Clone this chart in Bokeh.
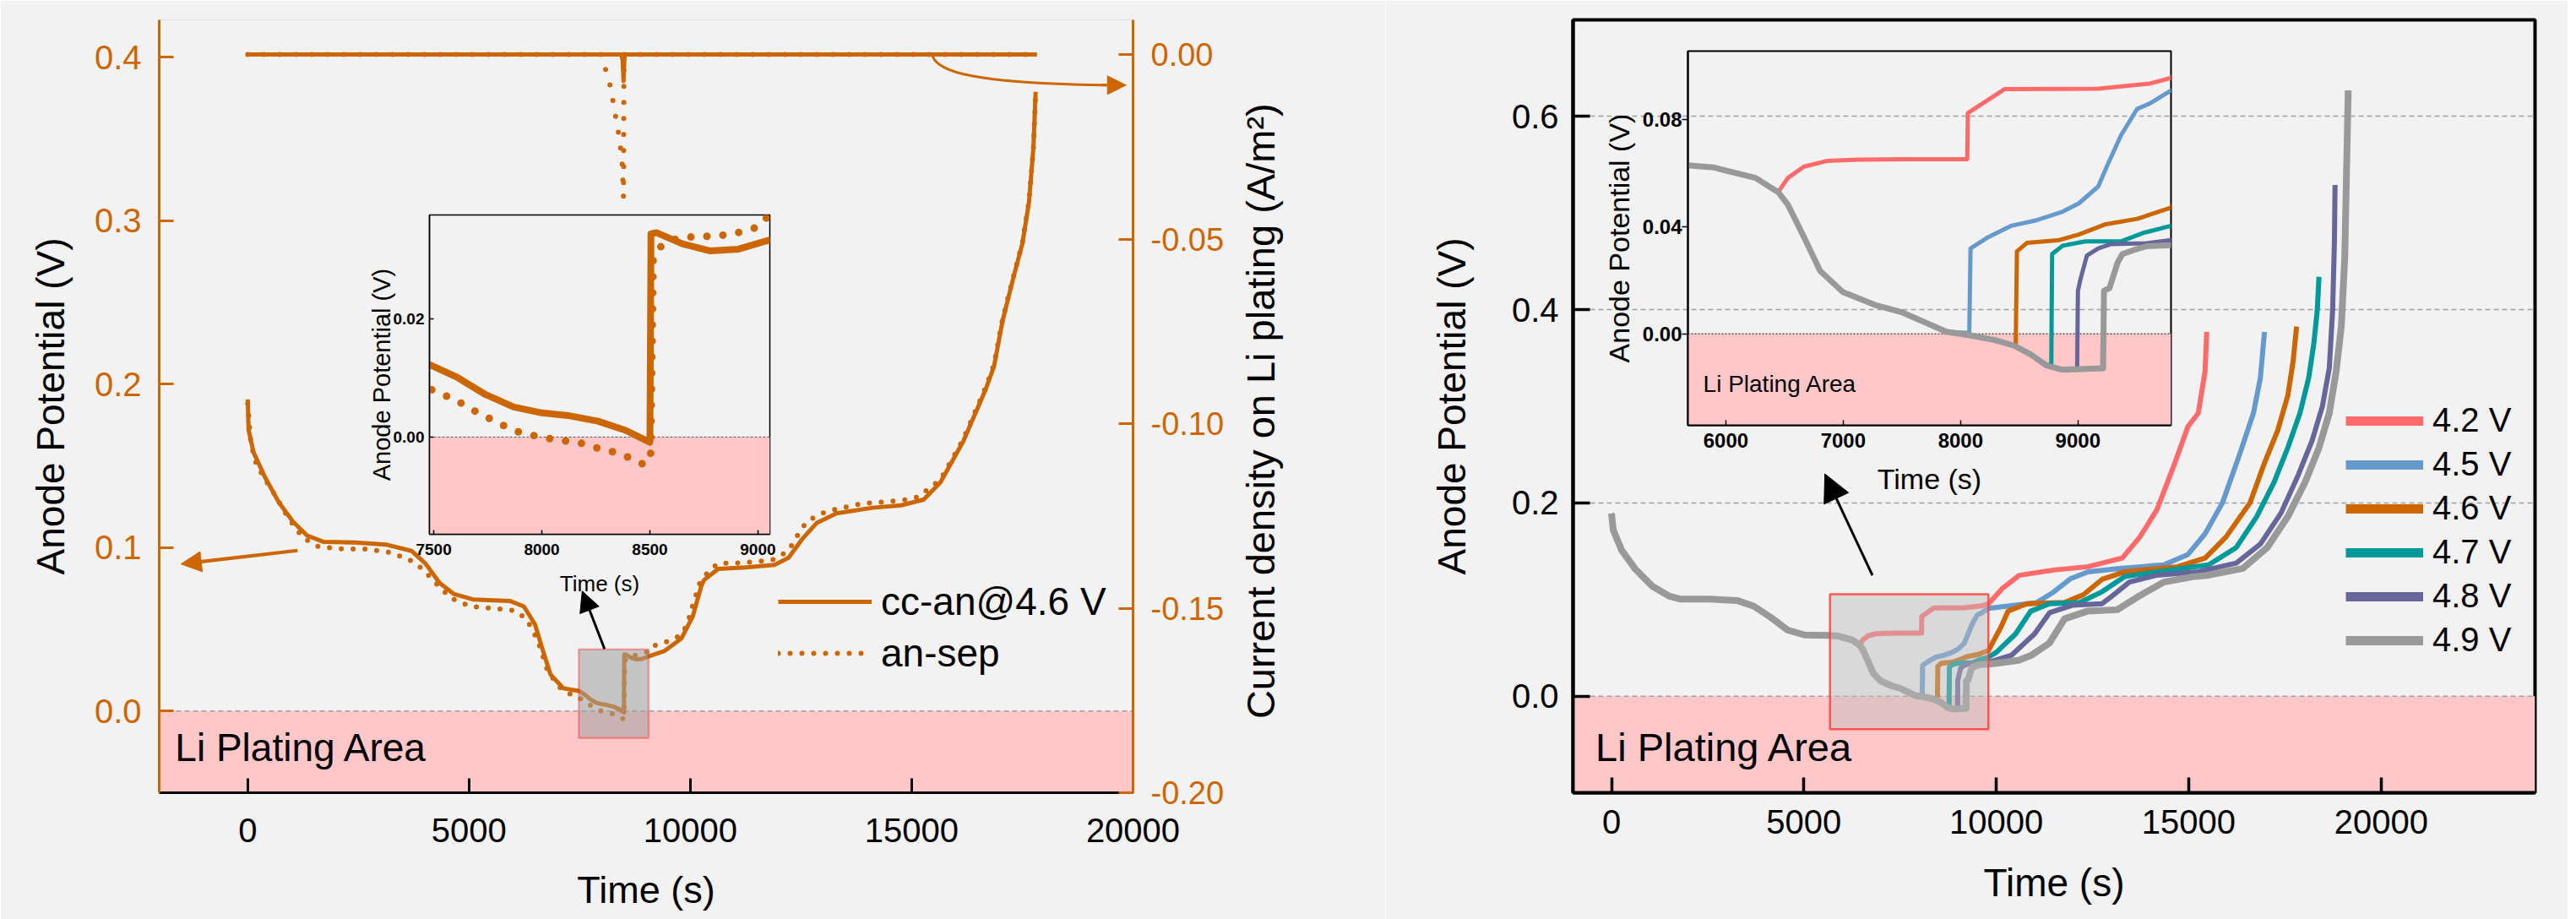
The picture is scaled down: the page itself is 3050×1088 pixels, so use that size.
import math
from bokeh.plotting import figure
from bokeh.models import (Range1d, LinearAxis, FixedTicker, NumeralTickFormatter, BoxAnnotation,
                          Span, Label, Arrow, NormalHead, Legend, LegendItem, GridBox)
from bokeh.embed import file_html
from bokeh.resources import INLINE

FONT = "Liberation Sans"
ORANGE = "#CC6600"
BG = "#F2F2F2"
PINK = "#FFC7C7"

# ---------------- left panel data ----------------
t_cc = [0, 20, 130, 390, 700, 1020, 1340, 1720, 2420, 3120, 3700, 4010, 4330, 4650, 5090, 5920, 6240, 6490,
        6680, 6840, 7130, 7480, 7610, 7740, 7870, 8000, 8130, 8260, 8390, 8500, 8505, 8530, 8650, 8780, 8910,
        9040, 9420, 9800, 10055, 10250, 10310, 10630, 11260, 11900, 12220, 12540, 12850, 13300, 14120, 14760,
        15270, 15650, 16160, 16670, 16860, 17050, 17300, 17500, 17650, 17750, 17800]
v_cc = [0.1907, 0.172, 0.1584, 0.1431, 0.1278, 0.1159, 0.1074, 0.1035, 0.1032, 0.1019, 0.098, 0.0904, 0.0785,
        0.0717, 0.0683, 0.0674, 0.064, 0.053, 0.036, 0.0224, 0.0139, 0.0123, 0.0101, 0.0072, 0.0051, 0.0041,
        0.0036, 0.0027, 0.0011, -0.0009, 0.0345, 0.0347, 0.0328, 0.0316, 0.0319, 0.0333, 0.0368, 0.0445, 0.058,
        0.0768, 0.0802, 0.087, 0.0879, 0.0895, 0.0938, 0.1057, 0.115, 0.121, 0.1244, 0.1259, 0.1294, 0.140,
        0.1648, 0.1967, 0.211, 0.2384, 0.2656, 0.286, 0.3115, 0.345, 0.379]

t_as = [0, 70, 200, 360, 640, 930, 1250, 1600, 2140, 2680, 3190, 3630, 3950, 4270, 4590, 5030, 5510, 6020, 6300,
        6560, 6780, 7070, 7380, 7480, 7550, 7620, 7680, 7750, 7820, 7890, 7970, 8040, 8120, 8190, 8260, 8340,
        8405, 8475, 8503, 8515, 8550, 8625, 8700, 8775, 8850, 8920, 8995, 9100, 9320, 9580, 9790, 9930, 10055,
        10215, 10405, 10630, 11020, 11710, 11930, 12155, 12315, 12470, 12660, 12850, 13045, 13425, 13900, 14410,
        14920, 15140, 15650, 16160, 16670, 16860, 17050, 17300, 17500, 17650, 17750, 17800]
v_as = [0.188, 0.1635, 0.1508, 0.1431, 0.1312, 0.1176, 0.106, 0.1006, 0.0992, 0.0992, 0.0972, 0.093, 0.087,
        0.0777, 0.0691, 0.064, 0.0629, 0.0615, 0.0564, 0.0428, 0.0241, 0.0139, 0.0088, 0.0082, 0.0071, 0.0059,
        0.0046, 0.0033, 0.0020, 0.0009, 0.0002, -0.0003, -0.0007, -0.0011, -0.0019, -0.0026, -0.0035, -0.0047,
        -0.0033, 0.0300, 0.0323, 0.0337, 0.0340, 0.0341, 0.0343, 0.0348, 0.0356, 0.0394, 0.041, 0.0436, 0.0465,
        0.053, 0.0649, 0.0785, 0.0853, 0.0904, 0.0905, 0.092, 0.093, 0.0972, 0.1023, 0.110, 0.1167, 0.119,
        0.1218, 0.1244, 0.127, 0.128, 0.1295, 0.131, 0.1415, 0.166, 0.198, 0.212, 0.2395, 0.266, 0.2865, 0.312,
        0.345, 0.378]

# current density on Li plating (right axis)
t_cur_cc = [0, 8440, 8470, 8490, 8505, 8520, 17830]
j_cur_cc = [0, 0, -0.0015, -0.0072, -0.002, 0, 0]
t_cur_as = [0, 7990, 8014, 8099, 8197, 8258, 8319, 8376, 8428, 8464, 8489, 8494, 8500, 17830]
j_cur_as = [0, 0, -0.0012, -0.0046, -0.0088, -0.0131, -0.0173, -0.0213, -0.0258, -0.0302, -0.0387, -0.02, 0, 0]

# ---------------- right panel data ----------------
t_base = [0, 44, 263, 629, 1068, 1507, 1799, 2530, 3262, 3701, 4140, 4579, 5018, 5676, 5895, 6253, 6446, 6529,
          6666, 6804, 6997, 7272, 7493, 7686, 7879, 8099, 8292, 8457, 8595, 8732, 8870, 9063, 9214]
v_base = [0.189, 0.172, 0.151, 0.131, 0.1135, 0.1033, 0.1004, 0.1004, 0.099, 0.093, 0.0814, 0.0683, 0.0633,
          0.0629, 0.0621, 0.0582, 0.0529, 0.0482, 0.0361, 0.0235, 0.0156, 0.0108, 0.0082, 0.0045, 0.0008,
          -0.0007, -0.0023, -0.0044, -0.0076, -0.0118, -0.0134, -0.0131, -0.0128]

t42 = [6529, 6666, 6859, 7134, 7548, 8057, 8062, 8153, 8374, 9173, 9614, 9793, 10145, 10593, 11488, 12383, 13274,
       13728, 14174, 14623, 14980, 15249, 15424, 15468]
v42 = [0.0582, 0.0624, 0.0645, 0.065, 0.0652, 0.0652, 0.0824, 0.085, 0.0913, 0.0915, 0.0934, 0.0955, 0.111, 0.125,
       0.1305, 0.134, 0.143, 0.1646, 0.193, 0.2395, 0.279, 0.293, 0.336, 0.377]
t45 = [8074, 8085, 8236, 8429, 8649, 8870, 9008, 9173, 9256, 9366, 9504, 9614, 9793, 10575, 11036, 11488, 11935,
       12383, 13274, 14349, 14980, 15424, 15876, 16324, 16683, 16861, 16969]
v45 = [0.0003, 0.0319, 0.0361, 0.0403, 0.0424, 0.0456, 0.0487, 0.055, 0.0634, 0.074, 0.0839, 0.086, 0.0908,
       0.0945, 0.0965, 0.1077, 0.1217, 0.1287, 0.1323, 0.1358, 0.1466, 0.168, 0.200, 0.2503, 0.293, 0.329, 0.377]
t46 = [8470, 8480, 8567, 8842, 9008, 9228, 9504, 9793, 10110, 10306, 10795, 11773, 12265, 12748, 13340, 14713,
       15428, 15966, 16594, 16951, 17312, 17575, 17713, 17803]
v46 = [-0.0039, 0.0308, 0.034, 0.035, 0.0371, 0.0408, 0.0429, 0.0471, 0.0706, 0.0879, 0.0957, 0.097, 0.105,
       0.1208, 0.1287, 0.134, 0.143, 0.1646, 0.2002, 0.2395, 0.275, 0.311, 0.3466, 0.3825]
t47 = [8773, 8780, 8870, 9063, 9366, 9559, 9793, 10005, 10501, 10893, 11383, 12166, 12748, 13340, 14174, 15518,
       16236, 16771, 17221, 17575, 17892, 18116, 18250, 18342, 18385]
v47 = [-0.0113, 0.0298, 0.0329, 0.0345, 0.0345, 0.0377, 0.0403, 0.0455, 0.0644, 0.0879, 0.0957, 0.097, 0.108,
       0.1238, 0.1287, 0.1358, 0.1538, 0.186, 0.2216, 0.257, 0.293, 0.329, 0.3645, 0.400, 0.434]
t48 = [8993, 9000, 9021, 9076, 9173, 9283, 9586, 9793, 10400, 10992, 11383, 11971, 12748, 13010, 13458, 14174,
       15249, 16236, 16861, 17398, 17846, 18206, 18474, 18653, 18741, 18787, 18803]
v48 = [-0.0132, 0.0161, 0.0203, 0.0292, 0.0319, 0.0335, 0.0338, 0.035, 0.0425, 0.0644, 0.0863, 0.094, 0.0957,
       0.1037, 0.118, 0.1252, 0.1287, 0.1377, 0.1573, 0.1895, 0.2288, 0.2645, 0.300, 0.3396, 0.4003, 0.4718, 0.529]
t49 = [9222, 9269, 9338, 9379, 9476, 9586, 9793, 10000, 10575, 10900, 11383, 11773, 12361, 13143, 13728, 14349,
       15104, 15518, 16411, 17041, 17578, 18026, 18385, 18653, 18831, 18965, 19055, 19101, 19145]
v49 = [0.0161, 0.0171, 0.0266, 0.0298, 0.0313, 0.0327, 0.0331, 0.034, 0.037, 0.042, 0.055, 0.080, 0.0879, 0.0894,
       0.104, 0.118, 0.1235, 0.1252, 0.1323, 0.1538, 0.186, 0.2216, 0.257, 0.293, 0.336, 0.3825, 0.454, 0.543,
       0.627]

voltages = ["4.2 V", "4.5 V", "4.6 V", "4.7 V", "4.8 V", "4.9 V"]
colors = ["#FF6B6B", "#6699CC", "#CC6600", "#009999", "#666699", "#999999"]
tails = [(t42, v42), (t45, v45), (t46, v46), (t47, v47), (t48, v48), (t49, v49)]

RIGHT_TITLE = "Current density on Li plating (A/m²)"


def full_series(tt, vv):
    xs = [t for t in t_base if t < tt[0]] + tt
    ys = [v for t, v in zip(t_base, v_base) if t < tt[0]] + vv
    return xs, ys


def style_axis(ax, color="black", label_color="black", tick_size="40px", title_size="46px",
               tick_in=17, tick_out=0, lw=3, tick_lw=3, bold=False):
    ax.axis_line_color = color
    ax.axis_line_width = lw
    ax.major_tick_line_color = color
    ax.major_tick_line_width = tick_lw
    ax.major_tick_in = tick_in
    ax.major_tick_out = tick_out
    ax.minor_tick_line_color = None
    ax.major_label_text_color = label_color
    ax.major_label_text_font = FONT
    ax.major_label_text_font_size = tick_size
    ax.major_label_text_font_style = "bold" if bold else "normal"
    ax.axis_label_text_font = FONT
    ax.axis_label_text_font_size = title_size
    ax.axis_label_text_font_style = "normal"
    ax.axis_label_text_color = "black"


H = 1088

# =============== LEFT MAIN ===============
p1 = figure(width=1640, height=H, x_range=Range1d(-2000, 20000), y_range=Range1d(-0.05, 0.423),
            output_backend="svg", toolbar_location=None,
            min_border_left=188, min_border_right=299, min_border_top=21, min_border_bottom=H - 949,
            background_fill_color=BG, border_fill_color=BG, outline_line_color="#DCDCDC", outline_line_width=1)
p1.grid.visible = False
p1.extra_y_ranges = {"cur": Range1d(-0.2, 0.0094)}

xa = p1.xaxis[0]
xa.ticker = FixedTicker(ticks=[0, 5000, 10000, 15000, 20000])
xa.formatter = NumeralTickFormatter(format="0")
xa.axis_label = "Time (s)"
style_axis(xa, title_size="45px")
xa.major_label_standoff = 30
xa.axis_label_standoff = 28

ya = p1.yaxis[0]
ya.ticker = FixedTicker(ticks=[0, 0.1, 0.2, 0.3, 0.4])
ya.formatter = NumeralTickFormatter(format="0.0")
ya.axis_label = "Anode Potential (V)"
style_axis(ya, color=ORANGE, label_color=ORANGE)
ya.major_label_standoff = 21
ya.axis_label_standoff = 23

ax_r = LinearAxis(y_range_name="cur", ticker=FixedTicker(ticks=[-0.2, -0.15, -0.1, -0.05, 0.0]),
                  formatter=NumeralTickFormatter(format="0.00"))
style_axis(ax_r, color=ORANGE, label_color=ORANGE, tick_size="38px")
ax_r.major_label_standoff = 21
p1.add_layout(ax_r, "right")

# title of the current-density axis: one rotated label placed beside that axis, reading bottom-to-top
title_start = -0.18
ax_t = LinearAxis(y_range_name="cur", ticker=FixedTicker(ticks=[title_start]),
                  major_label_overrides={title_start: RIGHT_TITLE}, major_label_orientation=math.pi / 2)
ax_t.axis_line_color = None
ax_t.major_tick_line_color = None
ax_t.minor_tick_line_color = None
ax_t.major_tick_in = 0
ax_t.major_tick_out = 0
ax_t.major_label_standoff = 40
ax_t.major_label_text_font = FONT
ax_t.major_label_text_font_size = "47px"
ax_t.major_label_text_color = "black"
p1.add_layout(ax_t, "right")

p1.add_layout(BoxAnnotation(top=0, fill_color=PINK, fill_alpha=1, line_alpha=0, level="underlay"))
p1.add_layout(Span(location=0, dimension="width", line_color="#A0A0A0", line_dash="6 4",
                   line_width=1.5, level="underlay"))

r_cc = p1.line(t_cc, v_cc, line_color=ORANGE, line_width=5, line_join="round")
r_as = p1.line(t_as, v_as, line_color=ORANGE, line_width=6, line_dash="0 14", line_cap="round")
p1.line(t_cur_cc, j_cur_cc, y_range_name="cur", line_color=ORANGE, line_width=5, line_join="round")
p1.line(t_cur_as, j_cur_as, y_range_name="cur", line_color=ORANGE, line_width=6, line_dash="0 19",
        line_cap="round")

p1.add_layout(Label(x=-1641, y=-0.0222, text="Li Plating Area", text_font=FONT, text_font_size="46px",
                    text_align="left", text_baseline="middle", text_color="black"))

# arrows
p1.add_layout(Arrow(end=NormalHead(size=24, fill_color=ORANGE, line_color=ORANGE), x_start=1126, y_start=0.0982,
                    x_end=-1507, y_end=0.090, line_color=ORANGE, line_width=4))
p1.bezier(x0=[15460], y0=[0.0], x1=[19400], y1=[-0.0083], cx0=[15550], cy0=[-0.005], cx1=[16500], cy1=[-0.0078],
          line_color=ORANGE, line_width=3, y_range_name="cur")
p1.add_layout(Arrow(end=NormalHead(size=22, fill_color=ORANGE, line_color=ORANGE), x_start=19300,
                    y_start=-0.0083, x_end=19843, y_end=-0.0083, y_range_name="cur",
                    line_color=ORANGE, line_width=3))

# =============== LEFT INSET ===============
ins1 = figure(width=503, height=472, x_range=Range1d(7480, 9055), y_range=Range1d(-0.0165, 0.0377),
              output_backend="svg", toolbar_location=None,
              min_border_left=90, min_border_right=10, min_border_top=14, min_border_bottom=80,
              background_fill_alpha=0, border_fill_alpha=0, outline_line_color="black", outline_line_width=1.5)
ins1.grid.visible = False
ix = ins1.xaxis[0]
ix.ticker = FixedTicker(ticks=[7500, 8000, 8500, 9000])
ix.formatter = NumeralTickFormatter(format="0")
ix.axis_label = "Time (s)"
style_axis(ix, tick_size="19px", title_size="26px", tick_in=5, lw=1.5, tick_lw=1.5, bold=True)
ix.major_label_standoff = 11
ix.axis_label_standoff = 16
iy = ins1.yaxis[0]
iy.ticker = FixedTicker(ticks=[0.0, 0.02])
iy.formatter = NumeralTickFormatter(format="0.00")
iy.axis_label = "Anode Potential (V)"
style_axis(iy, tick_size="19px", title_size="29px", tick_in=5, lw=1.5, tick_lw=1.5, bold=True)
iy.major_label_standoff = 6
iy.axis_label_standoff = -5

ins1.add_layout(BoxAnnotation(top=0, fill_color=PINK, fill_alpha=1, line_alpha=0, level="underlay"))
ins1.add_layout(Span(location=0, dimension="width", line_color="#555555", line_dash="3 2",
                     line_width=1, level="underlay"))
ins1.line(t_cc, v_cc, line_color=ORANGE, line_width=8, line_join="round")
ins1.line(t_as, v_as, line_color=ORANGE, line_width=9, line_dash="0 19", line_cap="round")

# zoom box + arrow on the main plot (box from the inset ranges)
p1.add_layout(BoxAnnotation(left=ins1.x_range.start, right=ins1.x_range.end, bottom=ins1.y_range.start,
                            top=ins1.y_range.end, fill_color="#A0A0A0", fill_alpha=0.55,
                            line_color="#FF0000", line_width=2.5))
p1.add_layout(Arrow(end=NormalHead(size=24, fill_color="black", line_color="black"), x_start=8061, y_start=0.038,
                    x_end=7556, y_end=0.0734, line_color="black", line_width=3))

legend1 = Legend(items=[LegendItem(label="cc-an@4.6 V", renderers=[r_cc]),
                        LegendItem(label="an-sep", renderers=[r_as])],
                 location=(733, 138), orientation="vertical",
                 label_text_font=FONT, label_text_font_size="46px", label_text_color="black",
                 glyph_width=111, glyph_height=44, label_height=44, label_standoff=11, spacing=7,
                 padding=0, margin=0, background_fill_alpha=0, border_line_alpha=0)
p1.add_layout(legend1)

# =============== RIGHT MAIN ===============
p2 = figure(width=1400, height=H, x_range=Range1d(-1000, 24000), y_range=Range1d(-0.1, 0.7),
            output_backend="svg", toolbar_location=None,
            min_border_left=222, min_border_right=39, min_border_top=23, min_border_bottom=H - 938,
            background_fill_color=BG, border_fill_color=BG, outline_line_color="black", outline_line_width=4)
p2.xgrid.visible = False
p2.ygrid.ticker = FixedTicker(ticks=[0.2, 0.4, 0.6])
p2.ygrid.grid_line_color = "#A0A0A0"
p2.ygrid.grid_line_dash = "6 4"
p2.ygrid.grid_line_width = 1.5

x2 = p2.xaxis[0]
x2.ticker = FixedTicker(ticks=[0, 5000, 10000, 15000, 20000])
x2.formatter = NumeralTickFormatter(format="0")
x2.axis_label = "Time (s)"
style_axis(x2, tick_in=18, lw=4, tick_lw=3.5)
x2.major_label_standoff = 20
x2.axis_label_standoff = 29
y2 = p2.yaxis[0]
y2.ticker = FixedTicker(ticks=[0.0, 0.2, 0.4, 0.6])
y2.formatter = NumeralTickFormatter(format="0.0")
y2.axis_label = "Anode Potential (V)"
style_axis(y2, tick_in=20, lw=4, tick_lw=3.5)
y2.major_label_standoff = 17
y2.axis_label_standoff = 42

p2.add_layout(BoxAnnotation(top=0, fill_color=PINK, fill_alpha=1, line_alpha=0, level="underlay"))
p2.add_layout(Span(location=0, dimension="width", line_color="#A0A0A0", line_dash="6 4",
                   line_width=1.5, level="underlay"))

# =============== RIGHT INSET ===============
ins2 = figure(width=697, height=548, x_range=Range1d(5677, 9793), y_range=Range1d(-0.0341, 0.1055),
              output_backend="svg", toolbar_location=None,
              min_border_left=115, min_border_right=10, min_border_top=10, min_border_bottom=95,
              background_fill_alpha=0, border_fill_alpha=0, outline_line_color="black", outline_line_width=2)
ins2.grid.visible = False
jx = ins2.xaxis[0]
jx.ticker = FixedTicker(ticks=[6000, 7000, 8000, 9000])
jx.formatter = NumeralTickFormatter(format="0")
jx.axis_label = "Time (s)"
style_axis(jx, tick_size="24px", title_size="34px", tick_in=6, lw=2, tick_lw=1.5, bold=True)
jx.major_label_standoff = 9
jx.axis_label_standoff = 15
jy = ins2.yaxis[0]
jy.ticker = FixedTicker(ticks=[0.0, 0.04, 0.08])
jy.formatter = NumeralTickFormatter(format="0.00")
jy.axis_label = "Anode Potential (V)"
style_axis(jy, tick_size="24px", title_size="34px", tick_in=0, tick_out=7, lw=2, tick_lw=1.5, bold=True)
jy.major_label_standoff = 0
jy.axis_label_standoff = 6

ins2.add_layout(BoxAnnotation(top=0, fill_color=PINK, fill_alpha=1, line_alpha=0, level="underlay"))
ins2.add_layout(Span(location=0, dimension="width", line_color="#555555", line_dash="2 2",
                     line_width=1.5, level="underlay"))

legend_items = []
nan = float("nan")
for name, col, (tt, vv) in zip(voltages, colors, tails):
    xs, ys = full_series(tt, vv)
    w = 8 if name == "4.9 V" else 6
    p2.line(xs, ys, line_color=col, line_width=w, line_join="round")
    ins2.line(xs, ys, line_color=col, line_width=w - 1, line_join="round")
    swatch = p2.line(x=[nan], y=[nan], line_color=col, line_width=11)  # legend swatch only
    legend_items.append(LegendItem(label=name, renderers=[swatch]))

ins2.add_layout(Label(x=5807, y=-0.0187, text="Li Plating Area", text_font=FONT, text_font_size="28px",
                      text_align="left", text_baseline="middle", text_color="black"))

p2.add_layout(Label(x=-417, y=-0.0525, text="Li Plating Area", text_font=FONT, text_font_size="47px",
                    text_align="left", text_baseline="middle", text_color="black"))
p2.add_layout(BoxAnnotation(left=ins2.x_range.start, right=ins2.x_range.end, bottom=ins2.y_range.start,
                            top=ins2.y_range.end, fill_color="#BCBCBC", fill_alpha=0.46,
                            line_color="#FF4040", line_alpha=0.85, line_width=2.5))
p2.add_layout(Arrow(end=NormalHead(size=32, fill_color="black", line_color="black"), x_start=6780, y_start=0.125,
                    x_end=5544, y_end=0.230, line_color="black", line_width=3))

legend2 = Legend(items=legend_items, location=(915, 158), orientation="vertical",
                 label_text_font=FONT, label_text_font_size="40px", label_text_color="black",
                 glyph_width=92, glyph_height=40, label_height=40, label_standoff=11, spacing=7,
                 padding=0, margin=0, background_fill_alpha=0, border_line_alpha=0)
p2.add_layout(legend2)

grid = GridBox(children=[(p1, 0, 0, 5, 3), (p2, 0, 3, 5, 3), (ins1, 2, 1, 2, 1), (ins2, 1, 4, 2, 1)],
               rows=["50px", "190px", "358px", "114px", "376px"],
               cols=["418px", "503px", "719px", "243px", "697px", "460px"], spacing=0)

open("out.html", "w").write(file_html(grid, INLINE))
